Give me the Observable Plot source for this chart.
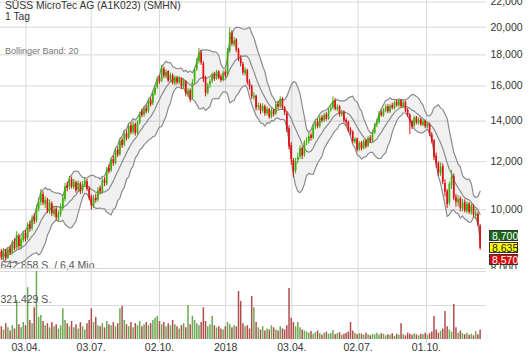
<!DOCTYPE html>
<html><head><meta charset="utf-8">
<script src="https://cdn.jsdelivr.net/npm/d3@7"></script>
<script src="https://cdn.jsdelivr.net/npm/@observablehq/plot@0.6"></script>
<style>
body{margin:0;background:#fff;font-family:"Liberation Sans",Arial,sans-serif;}
#wrap{position:relative;width:530px;height:359px;overflow:hidden;background:#fff;}
#wrap svg{position:absolute;left:0;}
.lbl{position:absolute;white-space:nowrap;line-height:10px;}
.tag{position:absolute;left:489px;width:29px;height:11px;font-size:10.5px;line-height:11px;padding-left:2px;box-sizing:border-box;border:1px solid #333;}
</style></head><body><div id="wrap"></div>
<script>
// ---- data (EUR, sampled roughly every 2 trading days) ----
const title = "SÜSS MicroTec AG (A1K023) (SMHN)";
const period = "1 Tag";
const indicator = "Bollinger Band: 20";
const closes = [8.35,8.52,8.30,8.58,8.48,8.80,8.62,9.05,8.70,8.92,
9.10,8.95,9.40,9.28,9.65,9.55,10.05,10.30,10.62,10.25,
10.35,9.95,10.25,9.85,10.00,9.70,9.85,10.10,10.45,10.90,
10.85,11.20,10.90,11.10,10.75,11.05,10.70,11.00,11.15,10.80,
10.45,10.15,10.42,10.35,10.75,10.70,11.15,11.05,11.62,11.55,
12.05,11.90,12.50,12.30,12.95,12.75,13.30,13.10,13.70,13.40,
13.80,13.35,13.90,14.35,14.30,14.65,14.50,15.10,14.90,15.55,
15.85,16.40,16.25,17.10,16.60,16.85,16.30,16.65,16.15,16.50,
16.20,16.45,15.95,16.30,15.55,15.70,15.20,16.20,17.00,17.50,
18.10,17.45,16.40,15.55,16.00,16.25,16.65,16.40,16.85,16.50,
16.35,16.80,16.60,18.20,19.60,18.75,19.00,18.30,17.70,17.40,
16.80,17.00,16.20,15.95,15.35,15.40,14.70,14.85,14.55,14.80,
14.40,14.65,14.20,14.55,14.35,14.90,14.75,15.20,14.70,14.45,
13.55,12.70,12.10,11.55,12.00,12.20,12.60,12.25,12.90,12.95,
13.20,13.10,13.65,13.90,13.70,14.15,14.00,14.30,14.10,14.55,
14.70,15.10,14.65,14.75,14.35,14.45,14.00,13.90,13.50,13.40,
12.95,13.05,12.55,12.85,12.60,12.95,12.70,13.10,12.95,13.40,
13.75,13.95,14.40,14.30,14.55,14.75,14.50,14.80,14.70,15.00,
14.85,15.10,14.80,15.00,14.55,14.30,13.95,13.70,14.15,13.90,
14.05,13.80,13.95,13.70,13.85,13.30,12.95,12.20,11.90,11.50,
11.75,11.10,10.70,10.20,11.00,11.30,10.45,10.30,10.40,10.05,
10.25,9.95,10.20,9.90,10.15,9.80,9.85,9.45,8.64];
const opens = [8.52,8.33,8.55,8.32,8.62,8.50,8.85,8.65,9.02,8.68,
8.90,9.15,8.98,9.45,9.30,9.72,9.58,10.02,10.28,10.60,
10.20,10.38,9.92,10.22,9.82,10.02,9.65,9.82,10.05,10.40,
10.95,10.88,11.22,10.88,11.08,10.78,11.02,10.72,10.98,11.12,
10.82,10.50,10.12,10.45,10.38,10.85,10.68,11.20,11.02,11.70,
11.60,12.10,11.92,12.55,12.32,13.00,12.78,13.35,13.12,13.75,
13.42,13.82,13.38,13.88,14.50,14.32,14.70,14.52,15.15,14.95,
15.50,15.90,16.45,16.30,17.05,16.55,16.90,16.32,16.62,16.12,
16.48,16.18,16.42,15.92,16.25,15.48,15.72,15.25,16.25,17.05,
17.55,18.15,17.40,16.45,15.58,16.05,16.28,16.70,16.42,16.88,
16.55,16.38,16.85,16.70,18.25,19.55,18.70,19.05,18.35,17.75,
17.35,16.75,16.95,16.25,15.98,15.30,15.38,14.75,14.82,14.52,
14.78,14.38,14.62,14.22,14.58,14.40,14.92,14.78,15.22,14.72,
14.40,13.60,12.75,12.05,11.60,12.05,12.22,12.62,12.30,12.92,
12.95,13.25,13.12,13.68,13.95,13.72,14.18,14.02,14.35,14.12,
14.58,14.72,15.12,14.62,14.78,14.32,14.48,14.05,13.92,13.55,
13.42,12.92,13.08,12.58,12.88,12.62,12.98,12.72,13.12,12.98,
13.38,13.78,13.92,14.45,14.28,14.52,14.78,14.48,14.85,14.68,
15.05,14.82,15.12,14.78,15.02,14.58,14.32,13.98,13.72,14.18,
13.88,14.08,13.78,13.98,13.68,13.82,13.28,12.98,12.25,11.92,
11.48,11.78,11.05,10.72,10.25,10.95,11.35,10.48,10.25,10.42,
10.02,10.28,9.92,10.22,9.88,10.12,9.75,9.82,9.40];
const highs = [8.60,8.62,8.60,8.66,8.72,8.90,8.95,9.20,9.12,9.02,
9.22,9.25,9.52,9.58,9.78,9.85,10.18,10.45,10.80,10.70,
10.50,10.45,10.38,10.30,10.12,10.10,9.95,10.22,10.58,11.05,
11.10,11.35,11.32,11.22,11.15,11.15,11.10,11.12,11.30,11.22,
10.90,10.58,10.55,10.60,10.88,10.95,11.28,11.30,11.75,11.85,
12.15,12.25,12.62,12.70,13.08,13.12,13.45,13.50,13.85,13.88,
13.95,13.90,14.02,14.48,14.65,14.80,14.85,15.25,15.28,15.68,
16.02,16.55,16.62,17.30,17.20,17.00,16.95,16.80,16.75,16.62,
16.60,16.58,16.50,16.45,16.32,15.85,15.82,16.38,17.15,17.75,
18.45,18.30,17.55,16.60,16.15,16.40,16.80,16.85,16.98,16.95,
16.70,16.95,17.00,18.45,19.95,19.75,19.25,19.15,18.45,17.95,
17.50,17.15,17.05,16.38,16.05,15.60,15.45,15.00,14.95,14.95,
14.88,14.78,14.70,14.68,14.65,15.02,15.08,15.35,15.30,14.80,
14.50,13.75,12.90,12.15,12.15,12.40,12.75,12.70,13.00,13.15,
13.35,13.38,13.80,14.05,14.08,14.28,14.30,14.42,14.45,14.68,
14.88,15.35,15.25,14.90,14.85,14.58,14.55,14.15,14.00,13.65,
13.50,13.15,13.12,12.95,12.95,13.05,13.05,13.20,13.25,13.52,
13.88,14.10,14.52,14.58,14.68,14.88,14.90,14.92,14.98,15.10,
15.18,15.25,15.20,15.12,15.10,14.68,14.40,14.05,14.25,14.25,
14.18,14.15,14.05,14.05,13.95,13.90,13.40,13.05,12.40,12.00,
11.95,11.90,11.20,10.80,11.10,11.60,11.45,10.60,10.55,10.50,
10.40,10.38,10.30,10.28,10.25,10.20,10.00,9.90,9.45];
const lows = [8.25,8.26,8.22,8.28,8.40,8.42,8.55,8.58,8.60,8.62,
8.82,8.85,8.90,9.18,9.22,9.45,9.50,9.92,10.15,10.15,
10.05,9.85,9.82,9.75,9.72,9.58,9.55,9.72,9.95,10.30,
10.70,10.78,10.82,10.80,10.65,10.68,10.60,10.62,10.88,10.72,
10.35,9.98,10.05,10.25,10.30,10.58,10.60,10.92,10.95,11.45,
11.52,11.78,11.85,12.20,12.25,12.62,12.70,12.98,13.05,13.28,
13.30,13.22,13.28,13.80,14.18,14.20,14.38,14.42,14.78,14.85,
15.40,15.80,16.10,16.20,16.45,16.42,16.20,16.20,16.05,16.02,
16.05,16.08,15.82,15.80,15.35,15.30,15.02,15.15,16.10,16.90,
17.40,17.30,16.20,15.35,15.45,15.85,16.15,16.28,16.35,16.38,
16.20,16.25,16.45,16.55,18.10,18.60,18.55,18.15,17.55,17.20,
16.65,16.60,16.05,15.75,15.20,15.15,14.55,14.58,14.35,14.42,
14.25,14.28,14.10,14.12,14.22,14.30,14.62,14.70,14.60,14.30,
13.40,12.55,11.85,11.30,11.45,11.90,12.10,12.10,12.20,12.75,
12.82,12.98,13.05,13.55,13.60,13.62,13.90,13.92,14.00,14.05,
14.48,14.62,14.55,14.50,14.22,14.22,13.90,13.72,13.40,13.25,
12.85,12.82,12.45,12.48,12.50,12.55,12.60,12.65,12.85,12.90,
13.30,13.65,13.85,14.20,14.20,14.45,14.40,14.40,14.60,14.60,
14.75,14.75,14.70,14.70,14.45,14.20,13.30,13.55,13.65,13.80,
13.78,13.72,13.70,13.60,13.60,13.20,12.85,12.05,11.70,11.35,
11.35,11.00,10.50,10.05,10.15,10.80,10.35,10.10,10.10,9.92,
9.92,9.88,9.85,9.82,9.80,9.70,9.62,9.38,8.57];
// volume in thousand shares
const volumes = [120,90,150,110,80,130,100,370,140,110,
160,130,490,180,150,300,643,210,227,170,
130,150,110,160,120,140,100,130,290,180,
150,120,170,110,140,100,160,120,90,150,
180,290,160,208,130,120,150,110,170,140,
130,160,120,150,290,312,180,140,120,160,
110,150,130,170,120,140,160,130,150,180,
200,220,170,140,160,120,150,130,180,140,
120,100,130,150,110,321,140,220,180,150,
130,160,300,170,120,140,217,130,110,120,
100,90,120,160,140,110,130,120,454,360,
150,120,130,100,406,300,160,110,90,120,
80,100,90,130,110,90,80,120,100,90,
130,482,200,160,120,160,110,90,80,70,
60,75,50,65,80,55,40,60,70,50,
60,85,45,55,65,40,50,60,70,160,
80,60,45,55,50,40,60,45,35,50,
45,60,40,55,50,35,45,40,55,30,
50,40,150,45,35,60,50,40,55,45,
35,50,45,60,40,55,70,217,90,60,
80,100,265,120,90,70,330,110,60,80,
55,45,60,40,50,35,75,45,90];
const priceTicks = [8,10,12,14,16,18,20,22];
const volMax = 642.858, volMid = 321.429;
const volTopLabel = "642.858 S. / 6,4 Mio.";
const volMidLabel = "321.429 S.";
const tickDates = ["2017-04-03","2017-07-03","2017-10-02","2018-01-02","2018-04-03","2018-07-02","2018-10-01"];
const tickLabels = ["03.04.","03.07.","02.10.","2018","03.04.","02.07.","01.10."];
const holidays = ["2017-04-14","2017-04-17","2017-05-01","2017-12-25","2017-12-26","2018-01-01","2018-03-30","2018-04-02","2018-05-01"];
const quoteTags = [{v: 8.700, bg: "#17661a", fg: "#fff"}, {v: 8.635, bg: "#ffff00", fg: "#222"}, {v: 8.570, bg: "#d40a0a", fg: "#fff"}];
const firstDay = "2017-04-03";        // trading-day index 0
const sampleT0 = -23.5, sampleStep = 2.09; // sample spacing in trading days
const bollN = 10;                      // 20 trading days in samples

[opens, highs, lows, volumes].forEach(a => { if (a.length !== closes.length) throw new Error("length " + a.length + " vs " + closes.length); });

function tIndex(ds) {
  const d = new Date(ds + "T00:00:00Z");
  let n = 0;
  for (let x = new Date(firstDay + "T00:00:00Z"); x < d; x.setUTCDate(x.getUTCDate() + 1)) {
    const wd = x.getUTCDay();
    if (wd !== 0 && wd !== 6 && !holidays.includes(x.toISOString().slice(0, 10))) n++;
  }
  return n;
}
const ticks = tickDates.map((d, i) => ({t: tIndex(d), label: tickLabels[i]}));
const candles = closes.map((c, i) => ({t: sampleT0 + i * sampleStep, o: opens[i], h: highs[i], l: lows[i], c, v: volumes[i], up: c >= opens[i]}));
const bands = candles.map((d, i) => {
  const w = closes.slice(Math.max(0, i - bollN + 1), i + 1);
  const m = d3.mean(w);
  const sd = Math.sqrt(d3.mean(w, v => (v - m) ** 2));
  return {t: d.t, mid: m, hi: m + 2 * sd, lo: m - 2 * sd};
});

const xDomain = [-24.27, 438.2];
const GREEN = "#3fae0c", RED = "#dc1010", GRID = "#d9d9d9", BAND = "#8a8a8a";
const fmtP = d => d.toFixed(3).replace(".", ",");

const vol = Plot.plot({
  width: 530, height: 109, marginTop: 21, marginBottom: 20, marginLeft: 0, marginRight: 44,
  style: {background: "transparent", overflow: "hidden", fontFamily: "Liberation Sans, Arial, sans-serif", fontSize: "10px"},
  x: {domain: xDomain, axis: null},
  y: {domain: [0, volMax], axis: null},
  marks: [
    Plot.ruleY([volMax, volMid], {stroke: GRID}),
    Plot.ruleX(ticks, {x: "t", stroke: GRID, insetTop: -3, insetBottom: -4}),
    Plot.ruleX(candles, {x: "t", y1: 0, y2: "v", stroke: d => d.up ? "#6ba852" : "#b24c4c", strokeWidth: 1.5}),
    Plot.text(ticks, {x: "t", text: "label", frameAnchor: "bottom", dy: 11, fill: "#333", fontSize: 10.5}),
    Plot.text([volMax], {y: d => d, text: () => volTopLabel, frameAnchor: "left", textAnchor: "start", dy: -6, fill: "#555", fontSize: 10.5}),
    Plot.text([volMid], {y: d => d, text: () => volMidLabel, frameAnchor: "left", textAnchor: "start", dy: -6, fill: "#555", fontSize: 10.5})
  ]
});

const price = Plot.plot({
  width: 530, height: 269, marginTop: 0, marginBottom: 1, marginLeft: 0, marginRight: 44,
  style: {background: "transparent", overflow: "hidden", fontFamily: "Liberation Sans, Arial, sans-serif", fontSize: "10.5px"},
  x: {domain: xDomain, axis: null},
  y: {type: "log", domain: [8, 22.13], axis: null},
  marks: [
    Plot.ruleY(priceTicks, {stroke: GRID}),
    Plot.ruleX(ticks, {x: "t", stroke: GRID}),
    Plot.areaY(bands, {x: "t", y1: "lo", y2: "hi", fill: "#000", fillOpacity: 0.055}),
    Plot.lineY(bands, {x: "t", y: "hi", stroke: BAND, strokeWidth: 1.2}),
    Plot.lineY(bands, {x: "t", y: "mid", stroke: BAND, strokeWidth: 1.2}),
    Plot.lineY(bands, {x: "t", y: "lo", stroke: BAND, strokeWidth: 1.2}),
    Plot.ruleX(candles, {x: "t", y1: "l", y2: "h", stroke: d => d.up ? GREEN : RED, strokeWidth: 1}),
    Plot.ruleX(candles, {x: "t", y1: "o", y2: "c", stroke: d => d.up ? GREEN : RED, strokeWidth: 1.7}),
    Plot.text(priceTicks, {x: () => xDomain[1], y: d => d, text: fmtP, textAnchor: "start", dx: 4, fill: "#333"})
  ]
});

const wrap = document.getElementById("wrap");
vol.style.top = "250px";
price.style.top = "0px";
wrap.appendChild(vol);
wrap.appendChild(price);

function addLabel(text, left, top, size, color) {
  const el = document.createElement("div");
  el.className = "lbl";
  el.textContent = text;
  Object.assign(el.style, {left: left + "px", top: top + "px", fontSize: size + "px", color});
  wrap.appendChild(el);
}
addLabel(title, 5, 1, 10.3, "#333");
addLabel(period, 5, 11.5, 10.3, "#333");
addLabel(indicator, 5, 46, 9, "#777");

quoteTags.forEach((q, i) => {
  const el = document.createElement("div");
  el.className = "tag";
  el.textContent = fmtP(q.v);
  Object.assign(el.style, {top: (230 + i * 12) + "px", background: q.bg, color: q.fg});
  wrap.appendChild(el);
});
</script></body></html>
